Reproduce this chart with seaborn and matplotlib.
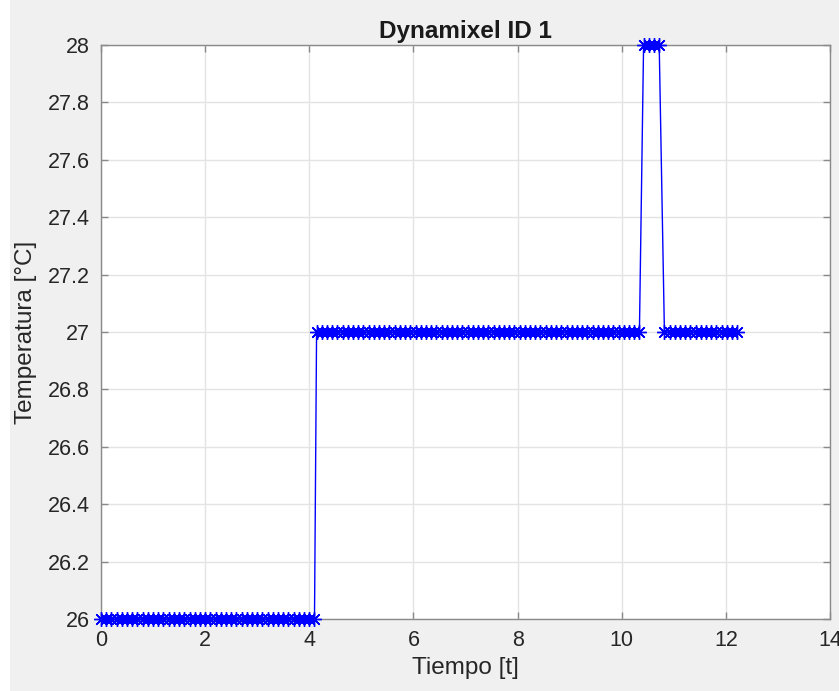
import numpy as np
import pandas as pd
import matplotlib
matplotlib.use("Agg")
import matplotlib.pyplot as plt
import seaborn as sns
from matplotlib.patches import Rectangle

# time stamps [t]
t_low = [0.0, 0.1, 0.2, 0.3, 0.4, 0.5, 0.6, 0.7, 0.8, 0.9, 1.0, 1.1, 1.2, 1.3,
         1.4, 1.5, 1.6, 1.7, 1.8, 1.9, 2.0, 2.1, 2.2, 2.3, 2.4, 2.5, 2.6, 2.7,
         2.8, 2.9, 3.0, 3.1, 3.2, 3.3, 3.4, 3.5, 3.6, 3.7, 3.8, 3.9, 4.0, 4.1]
t_mid = [4.14, 4.24, 4.34, 4.44, 4.54, 4.64, 4.74, 4.84, 4.94, 5.04, 5.14,
         5.24, 5.34, 5.44, 5.54, 5.64, 5.74, 5.84, 5.94, 6.04, 6.14, 6.24,
         6.34, 6.44, 6.54, 6.64, 6.74, 6.84, 6.94, 7.04, 7.14, 7.24, 7.34,
         7.44, 7.54, 7.64, 7.74, 7.84, 7.94, 8.04, 8.14, 8.24, 8.34, 8.44,
         8.54, 8.64, 8.74, 8.84, 8.94, 9.04, 9.14, 9.24, 9.34, 9.44, 9.54,
         9.64, 9.74, 9.84, 9.94, 10.04, 10.14, 10.24, 10.34]
t_peak = [10.42, 10.52, 10.62, 10.72]
t_end = [10.82, 10.92, 11.02, 11.12, 11.22, 11.32, 11.42, 11.52, 11.62,
         11.72, 11.82, 11.92, 12.02, 12.12, 12.22]

# temperature readings [°C]
temp_low = [26, 26, 26, 26, 26, 26, 26, 26, 26, 26, 26, 26, 26, 26,
            26, 26, 26, 26, 26, 26, 26, 26, 26, 26, 26, 26, 26, 26,
            26, 26, 26, 26, 26, 26, 26, 26, 26, 26, 26, 26, 26, 26]
temp_mid = [27, 27, 27, 27, 27, 27, 27, 27, 27, 27, 27,
            27, 27, 27, 27, 27, 27, 27, 27, 27, 27, 27,
            27, 27, 27, 27, 27, 27, 27, 27, 27, 27, 27,
            27, 27, 27, 27, 27, 27, 27, 27, 27, 27, 27,
            27, 27, 27, 27, 27, 27, 27, 27, 27, 27, 27,
            27, 27, 27, 27, 27, 27, 27, 27]
temp_peak = [28, 28, 28, 28]
temp_end = [27, 27, 27, 27, 27, 27, 27, 27, 27, 27, 27, 27, 27, 27, 27]

x_ticks = [0, 2, 4, 6, 8, 10, 12, 14]
y_ticks = [26, 26.2, 26.4, 26.6, 26.8, 27, 27.2, 27.4, 27.6, 27.8, 28]

sns.set_style("whitegrid")
plt.rcParams["font.family"] = ["Liberation Sans", "DejaVu Sans"]

df = pd.DataFrame({
    "tiempo": t_low + t_mid + t_peak + t_end,
    "temp": temp_low + temp_mid + temp_peak + temp_end,
})

fig = plt.figure(figsize=(8.39, 6.91), dpi=100, facecolor="#f0f0f0")
fig.patches.append(Rectangle((0, 0), 10 / 839, 1, transform=fig.transFigure,
                             facecolor="white", edgecolor="none", zorder=-1))
ax = fig.add_axes([101 / 839, 72 / 691, 729 / 839, 574 / 691])
ax.set_facecolor("white")

sns.lineplot(data=df, x="tiempo", y="temp", ax=ax, sort=False, estimator=None,
             color="blue", linewidth=1.0, marker=(8, 2, 0), markersize=10.5,
             markeredgecolor="blue", markeredgewidth=1.0, clip_on=False,
             zorder=5)

ax.set_xlim(0, 14)
ax.set_ylim(26, 28)
ax.set_xticks(x_ticks)
ax.set_yticks(y_ticks)
ax.set_yticklabels(["%g" % v for v in y_ticks])
ax.grid(True, color="#e3e3e3", linewidth=1.0)
for s in ax.spines.values():
    s.set_color("#8a8a8a")
    s.set_linewidth(1.0)
ax.tick_params(direction="in", length=5, width=1, color="#8a8a8a",
               labelsize=15.5, labelcolor="#262626", pad=8,
               top=True, right=True, bottom=True, left=True)

ax.set_title("Dynamixel ID 1", fontsize=17.5, fontweight="bold",
             color="#1a1a1a", pad=5)
ax.set_xlabel("Tiempo [t]", fontsize=17.5, color="#262626", labelpad=4)
ax.set_ylabel("Temperatura [°C]", fontsize=17.5, color="#262626", labelpad=8)

fig.savefig("out.png", dpi=100, facecolor=fig.get_facecolor())
